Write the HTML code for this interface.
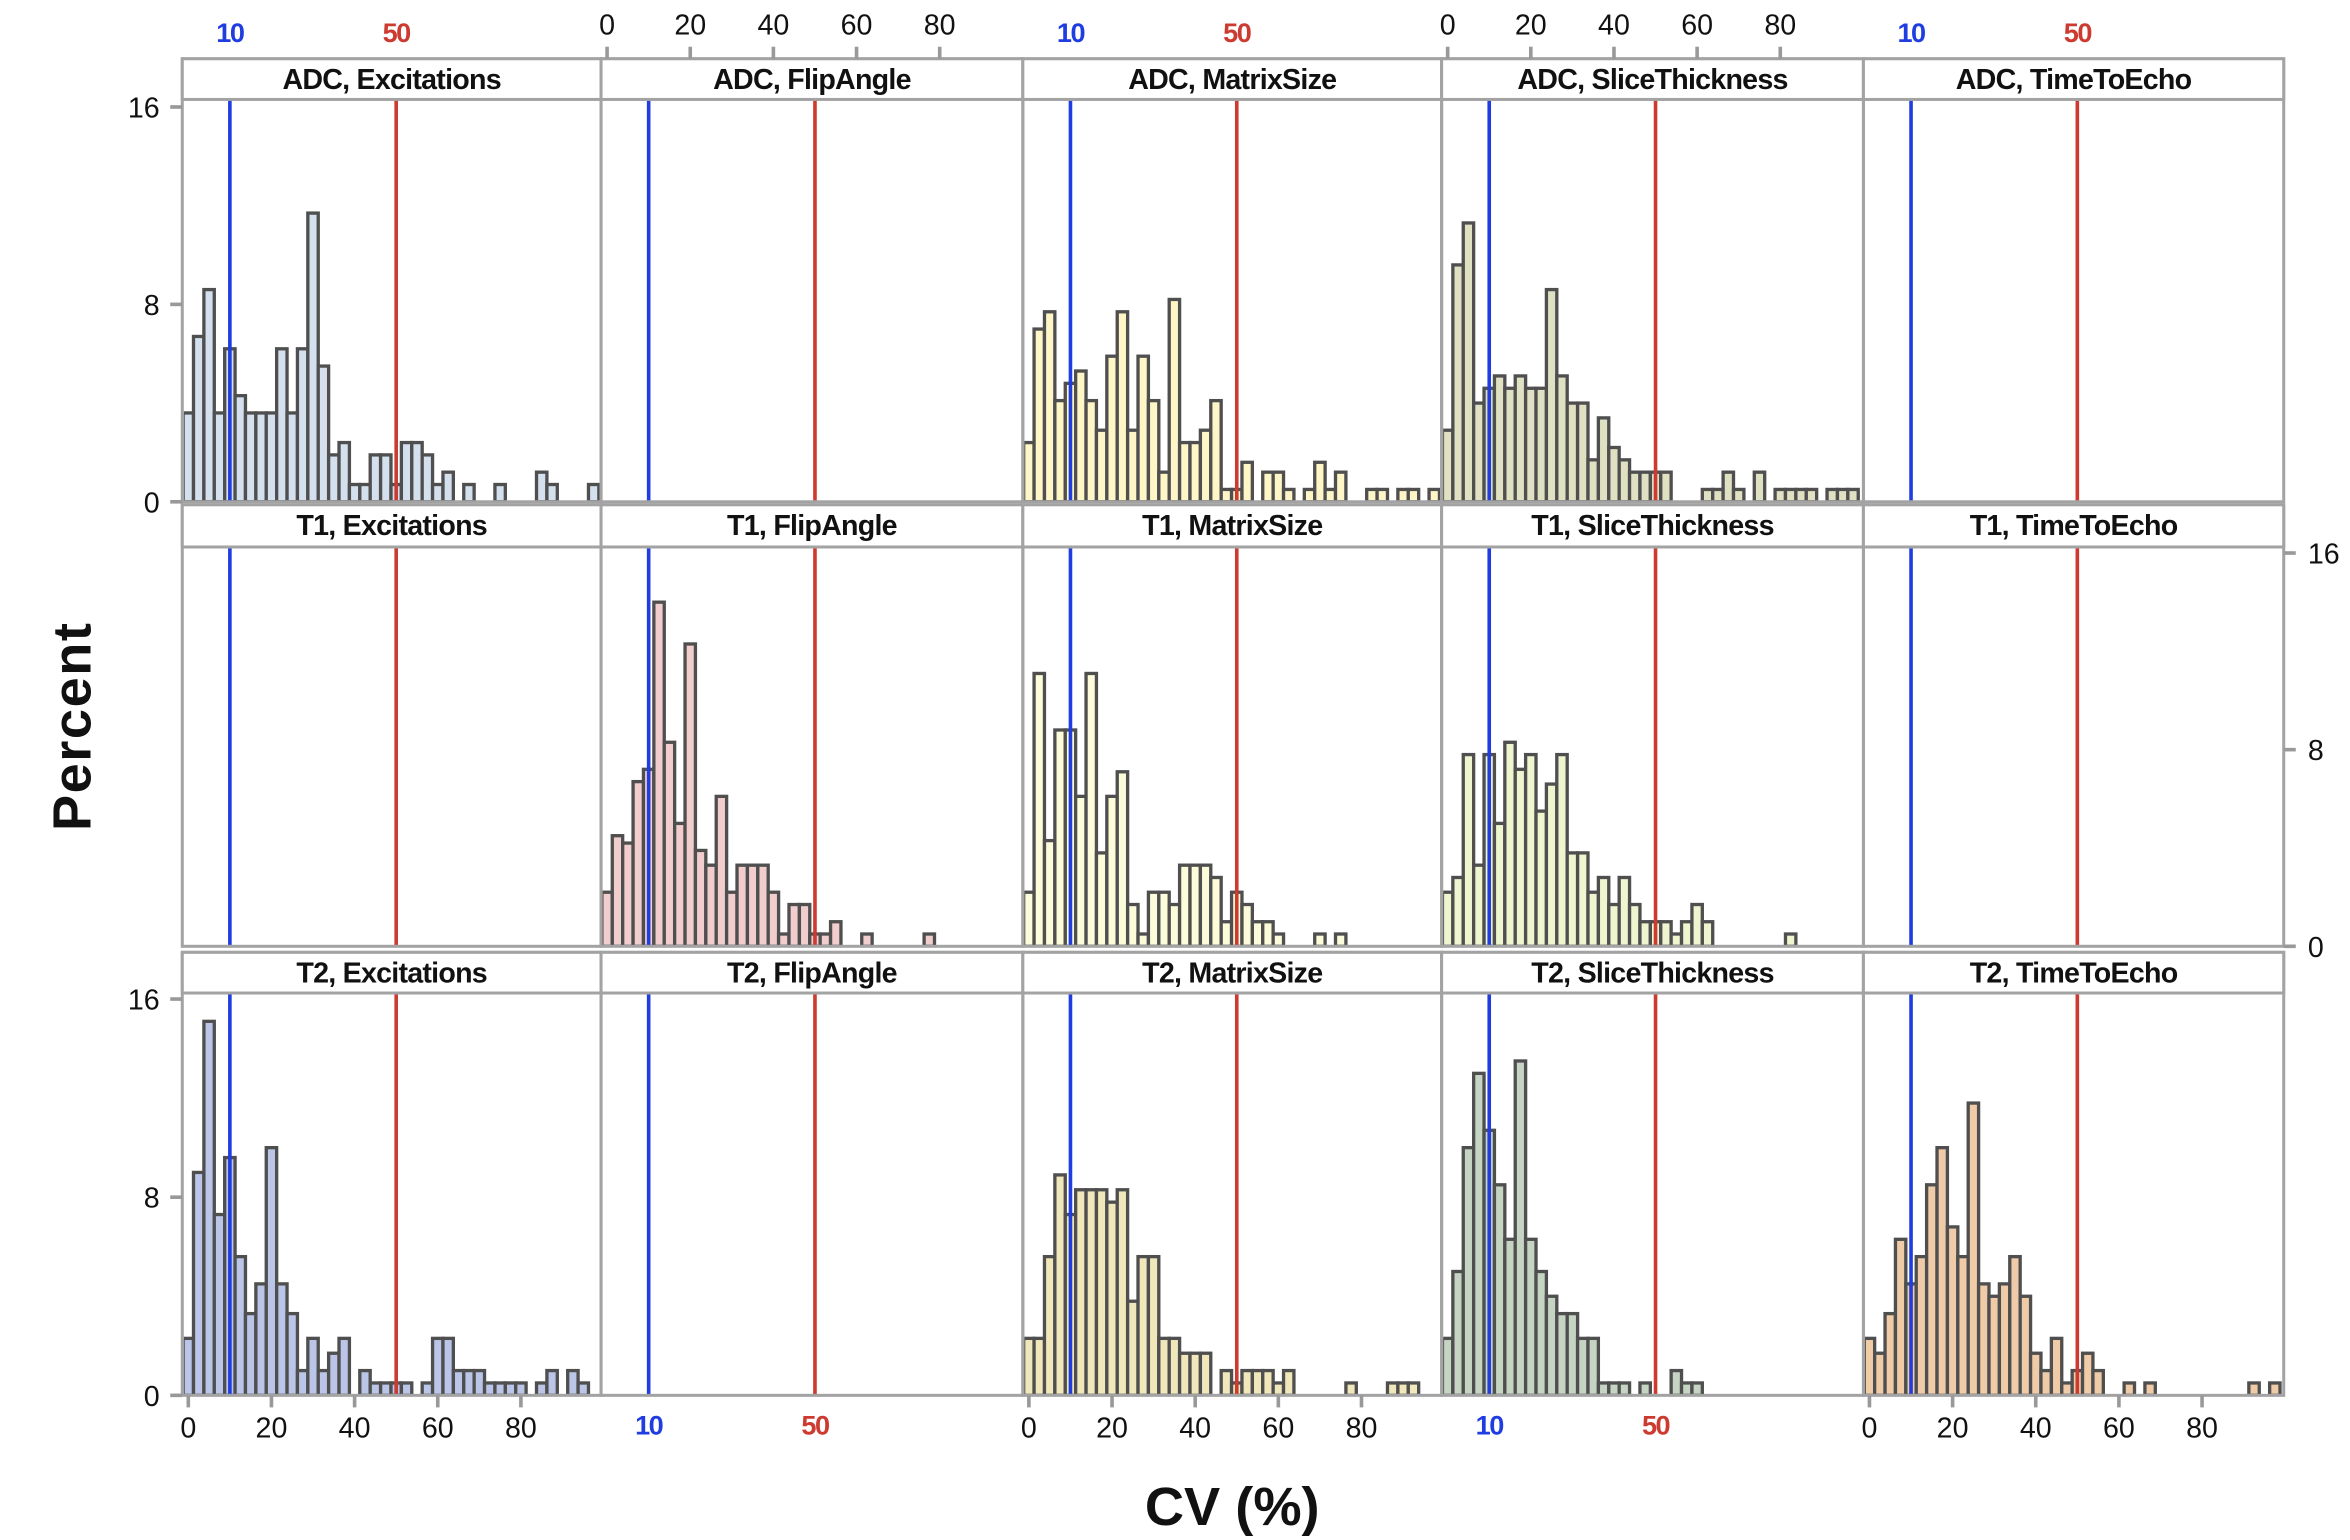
<!DOCTYPE html>
<html><head><meta charset="utf-8"><style>
html,body{margin:0;padding:0;background:#fff;}
svg{display:block;}
text{font-family:"Liberation Sans",sans-serif;}
</style></head><body>
<svg id="chart" width="2350" height="1540" viewBox="0 0 1560 1022" preserveAspectRatio="none" xmlns="http://www.w3.org/2000/svg"></svg>
<script>
const panelTitles = ["ADC, Excitations","ADC, FlipAngle","ADC, MatrixSize","ADC, SliceThickness","ADC, TimeToEcho",
"T1, Excitations","T1, FlipAngle","T1, MatrixSize","T1, SliceThickness","T1, TimeToEcho",
"T2, Excitations","T2, FlipAngle","T2, MatrixSize","T2, SliceThickness","T2, TimeToEcho"];
const binWidth = 2.5;
const xTicks = [0,20,40,60,80];
const yTicks = [0,8,16];
const refLow = 10, refHigh = 50;
const adcExcitations = [3.6,6.7,8.6,3.6,6.2,4.3,3.6,3.6,3.6,6.2,3.6,6.2,11.7,5.5,1.9,2.4,0.7,0.7,1.9,1.9,0.7,2.4,2.4,1.9,0.7,1.2,0,0.7,0,0,0.7,0,0,0,1.2,0.7,0,0,0,0.7];
const adcFlipAngle = [];
const adcMatrixSize = [2.4,7.0,7.7,4.1,4.8,5.3,4.1,2.9,5.9,7.7,2.9,5.9,4.1,1.2,8.2,2.4,2.4,2.9,4.1,0.5,0.5,1.6,0,1.2,1.2,0.5,0,0.5,1.6,0.5,1.2,0,0,0.5,0.5,0,0.5,0.5,0,0.5];
const adcSliceThickness = [2.9,9.6,11.3,4.0,4.6,5.1,4.6,5.1,4.6,4.6,8.6,5.1,4.0,4.0,1.7,3.4,2.2,1.7,1.2,1.2,1.2,1.2,0,0,0,0.5,0.5,1.2,0.5,0,1.2,0,0.5,0.5,0.5,0.5,0,0.5,0.5,0.5];
const adcTimeToEcho = [];
const t1Excitations = [];
const t1FlipAngle = [2.2,4.5,4.2,6.7,7.2,14.0,8.3,5.0,12.3,3.9,3.3,6.1,2.2,3.3,3.3,3.3,2.2,0.5,1.7,1.7,0.5,0.5,1.0,0,0,0.5,0,0,0,0,0,0.5];
const t1MatrixSize = [2.2,11.1,4.3,8.8,8.8,6.1,11.1,3.8,6.1,7.1,1.7,0.5,2.2,2.2,1.7,3.3,3.3,3.3,2.8,1.0,2.2,1.7,1.0,1.0,0.5,0,0,0,0.5,0,0.5];
const t1SliceThickness = [2.2,2.8,7.8,3.3,7.8,5.0,8.3,7.2,7.8,5.5,6.6,7.8,3.8,3.8,2.2,2.8,1.7,2.8,1.7,1.0,1.0,1.0,0.5,1.0,1.7,1.0,0,0,0,0,0,0,0,0.5];
const t1TimeToEcho = [];
const t2Excitations = [2.3,9.0,15.1,7.3,9.6,5.6,3.3,4.5,10.0,4.5,3.3,1.0,2.3,1.0,1.7,2.3,0,1.0,0.5,0.5,0.5,0.5,0,0.5,2.3,2.3,1.0,1.0,1.0,0.5,0.5,0.5,0.5,0,0.5,1.0,0,1.0,0.5];
const t2FlipAngle = [];
const t2MatrixSize = [2.3,2.3,5.6,8.9,7.3,8.3,8.3,8.3,7.8,8.3,3.8,5.6,5.6,2.3,2.3,1.7,1.7,1.7,0,1.0,0.5,1.0,1.0,1.0,0.5,1.0,0,0,0,0,0,0.5,0,0,0,0.5,0.5,0.5];
const t2SliceThickness = [2.3,5.0,10.0,13.0,10.7,8.5,6.3,13.5,6.3,5.0,4.0,3.3,3.3,2.3,2.3,0.5,0.5,0.5,0,0.5,0,0,1.0,0.5,0.5];
const t2TimeToEcho = [2.3,1.7,3.3,6.3,4.5,5.6,8.5,10.0,6.8,5.6,11.8,4.5,4.0,4.5,5.6,4.0,1.7,1.0,2.3,0.5,1.0,1.7,1.0,0,0,0.5,0,0.5,0,0,0,0,0,0,0,0,0,0.5,0,0.5];
const panelSeries = [adcExcitations,adcFlipAngle,adcMatrixSize,adcSliceThickness,adcTimeToEcho,
t1Excitations,t1FlipAngle,t1MatrixSize,t1SliceThickness,t1TimeToEcho,
t2Excitations,t2FlipAngle,t2MatrixSize,t2SliceThickness,t2TimeToEcho];
const fills = ["#d5e0ee","#fff","#fff6c8","#dfe1c2","#fff","#fff","#f1cdcd","#fdfcda","#eff5cf","#fff","#bac5e8","#fff","#f0e8ba","#c6d5c3","#efcba8"];

const NS="http://www.w3.org/2000/svg";
const svg=document.getElementById('chart');
function mk(tag,attrs,parent){const e=document.createElementNS(NS,tag);for(const k in attrs)e.setAttribute(k,attrs[k]);(parent||svg).appendChild(e);return e;}
const colX=[121,399,679,957,1237,1516];
const rows=[{h0:39,p0:66,p1:333,top16:71},{h0:335,p0:363,p1:628,top16:367},{h0:632,p0:659,p1:926,top16:663}];
const XS=2.76;
function xScale(c,v){return colX[c]+4+v*XS;}
function yScale(r,v){const R=rows[r];return R.p1-(R.p1-R.top16)*v/16;}

for(let r=0;r<3;r++){
  for(let c=0;c<5;c++){
    const idx=r*5+c, R=rows[r];
    const g=mk('g',{});
    
    
    const cid='clip'+idx;
    const cp=mk('clipPath',{id:cid},g);
    mk('rect',{x:colX[c]+1,y:R.p0,width:colX[c+1]-colX[c]-2,height:R.p1-R.p0},cp);
    const bars=mk('g',{'clip-path':'url(#'+cid+')'},g);
    const data=panelSeries[idx];
    data.forEach((v,i)=>{
      if(!v)return;
      const x0=xScale(c,i*binWidth-binWidth/2), x1=xScale(c,i*binWidth+binWidth/2);
      const b=mk('rect',{x:x0,y:yScale(r,v),width:x1-x0,height:R.p1-yScale(r,v),fill:fills[idx],stroke:'#4f4f4f','stroke-width':2.2},bars);
      
      
    });
    const lb=mk('line',{x1:xScale(c,refLow),x2:xScale(c,refLow),y1:R.p0,y2:R.p1,stroke:'#1f3de0','stroke-width':2.4},g);
    
    
    const lr=mk('line',{x1:xScale(c,refHigh),x2:xScale(c,refHigh),y1:R.p0,y2:R.p1,stroke:'#cc3a30','stroke-width':2.4},g);
    
    
    mk('rect',{x:colX[c],y:R.h0,width:colX[c+1]-colX[c],height:R.p1-R.h0,fill:'none',stroke:'#a3a3a3','stroke-width':2},g);
    mk('rect',{x:colX[c],y:R.h0,width:colX[c+1]-colX[c],height:R.p0-R.h0,fill:'#fff',stroke:'#a3a3a3','stroke-width':2},g);
    const t=mk('text',{x:(colX[c]+colX[c+1])/2,y:R.h0+20,'text-anchor':'middle','font-size':19,'font-weight':'bold',fill:'#111','letter-spacing':'-0.5'},g);
    t.textContent=panelTitles[idx];
    
    
  }
}
function yAxis(r,side){
  const g=mk('g',{});
  
  
  yTicks.forEach(v=>{
    const y=yScale(r,v);
    if(side==='left'){
      mk('line',{x1:113,x2:121,y1:y,y2:y,stroke:'#999','stroke-width':2.4},g);
      const t=mk('text',{x:106,y:y+7,'text-anchor':'end','font-size':19,fill:'#111'},g);t.textContent=v;
    }else{
      mk('line',{x1:1516,x2:1524,y1:y,y2:y,stroke:'#999','stroke-width':2.4},g);
      const t=mk('text',{x:1532,y:y+7,'text-anchor':'start','font-size':19,fill:'#111'},g);t.textContent=v;
    }
  });
}
yAxis(0,'left');yAxis(2,'left');yAxis(1,'right');
function xAxisNums(c,top){
  const g=mk('g',{});
  
  
  xTicks.forEach(v=>{
    const x=xScale(c,v);
    if(top){mk('line',{x1:x,x2:x,y1:31,y2:39,stroke:'#999','stroke-width':2.4},g);
      const t=mk('text',{x:x,y:23,'text-anchor':'middle','font-size':19,fill:'#111'},g);t.textContent=v;}
    else{mk('line',{x1:x,x2:x,y1:926,y2:934,stroke:'#999','stroke-width':2.4},g);
      const t=mk('text',{x:x,y:954,'text-anchor':'middle','font-size':19,fill:'#111'},g);t.textContent=v;}
  });
}
function xAxisRefs(c,top){
  const g=mk('g',{});
  
  
  const y=top?28:952;
  const a=mk('text',{x:xScale(c,refLow),y:y,'text-anchor':'middle','font-size':18,'font-weight':'bold',fill:'#1f3de0','letter-spacing':'-1'},g);a.textContent=refLow;
  const b=mk('text',{x:xScale(c,refHigh),y:y,'text-anchor':'middle','font-size':18,'font-weight':'bold',fill:'#cc3a30','letter-spacing':'-1'},g);b.textContent=refHigh;
}
[0,2,4].forEach(c=>{xAxisRefs(c,true);xAxisNums(c,false);});
[1,3].forEach(c=>{xAxisNums(c,true);xAxisRefs(c,false);});
const yt=mk('text',{x:0,y:0,transform:'translate(60,482) rotate(-90)','text-anchor':'middle','font-size':36,'font-weight':'bold',fill:'#111','letter-spacing':'1'});
yt.textContent='Percent';


const xt=mk('text',{x:818,y:1012,'text-anchor':'middle','font-size':36,'font-weight':'bold',fill:'#111'});
xt.textContent='CV (%)';


</script>
</body></html>
